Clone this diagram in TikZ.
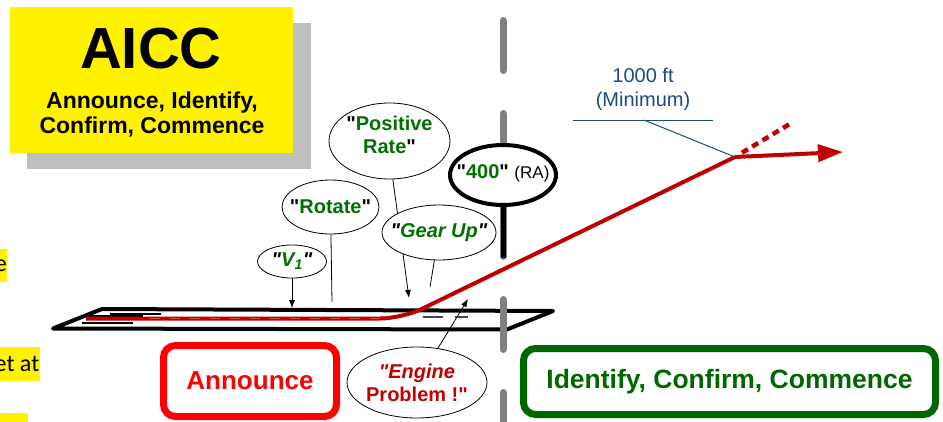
\documentclass[tikz,border=0pt]{standalone}
\usepackage{fontspec}
\setmainfont{Liberation Sans}[Ligatures=TeXOff]
\newfontfamily\notefont{Carlito}
\usepackage{tikz}
\usetikzlibrary{arrows,arrows.meta,shapes,positioning,calc,shapes.geometric}

\definecolor{aiccred}{RGB}{192,0,0}
\definecolor{callgreen}{RGB}{0,112,0}
\definecolor{boxgreen}{RGB}{0,102,0}
\definecolor{shadowgray}{RGB}{191,191,191}
\definecolor{polegray}{RGB}{128,128,128}
\definecolor{minblue}{RGB}{31,73,125}
\definecolor{markgray}{RGB}{64,72,80}

\newcommand{\bq}{{\color{black}"}}

\tikzset{
    callout/.style={ellipse, draw, line width=0.8pt, fill=white, inner sep=0pt},
    calltext/.style={text=callgreen, align=center, font=\bfseries\fontsize{20}{23}\selectfont},
    phasebox/.style={draw, rounded corners=12pt, line width=7pt, font=\bfseries\fontsize{26}{30}\selectfont},
    pointer/.style={line width=0.8pt, -{Latex[length=8pt, width=6pt]}},
    notemark/.style={fill=yellow, anchor=east, inner xsep=0.5pt, inner ysep=0pt, font=\notefont\fontsize{24}{24}\selectfont}
}

\begin{document}
\begin{tikzpicture}[x=1pt, y=-1pt]
        \useasboundingbox (0,0) rectangle (943,421);
        \node[notemark, minimum height=33pt] (noteone) at (7.5,265.5) {e};
        \node[notemark, minimum height=34pt] (notetwo) at (40,364) {et at};
        \fill[yellow] (0,413) rectangle (28,425);

        \node[fill=shadowgray, minimum width=284pt, minimum height=146pt] (aiccshadow) at (169,96) {};
        \node[fill=yellow, minimum width=283pt, minimum height=146pt] (aiccbox) at (151.5,80) {};
        \node[font=\bfseries\fontsize{58}{60}\selectfont] (aicctitle) at (151,49) {AICC};
        \node[align=center, font=\bfseries\fontsize{23}{25}\selectfont] (aiccsub) at (152,114) {Announce, Identify,\\Confirm, Commence};

        \draw[line width=4pt, line join=round] (53,328.5) -- (102,309) -- (553,311) -- (507,329.5) -- cycle;
        \draw[line width=1.5pt] (110,314) -- (161,314);
        \draw[line width=1.5pt] (86,316) -- (143,316);
        \draw[line width=1.5pt] (82,323) -- (133,323);
        \draw[markgray, line width=1.5pt] (423,317) -- (443,317);
        \draw[markgray, line width=1.5pt] (455,317) -- (468,317);

        \coordinate (rollstart) at (86,318.5);
        \coordinate (liftoff) at (402,318.5);
        \coordinate (thousand) at (735,157);
        \coordinate (climbtip) at (843,152);
        \coordinate (dashend) at (793,122);
        \draw[aiccred, line width=4pt, rounded corners=22pt] (rollstart) -- (liftoff) -- (thousand);
        \draw[white, opacity=0.3, line width=1pt, dash pattern=on 10pt off 10pt] (150,318.5) -- (390,318.5);
        \draw[aiccred, line width=4pt, -{Triangle[length=25pt, width=17pt]}] (thousand) -- (climbtip);
        \draw[aiccred, line width=4.5pt, dash pattern=on 7pt off 5pt] ($(thousand)!0.12!(dashend)$) -- (dashend);

        \draw[polegray, line width=7pt, line cap=round, dash pattern=on 50pt off 43pt] (503,20.5) -- (503,440);
        \coordinate (stickfoot) at (503,258);
        \node[callout, line width=4pt, minimum width=106pt, minimum height=60pt,
            label={[calltext, yshift=2pt]center:\bq400\bq\ {\mdseries\color{black}\fontsize{17}{20}\selectfont(RA)}}] (raheight) at (503,175) {};
        \draw[line width=5pt] (raheight) -- (stickfoot);

        \node[callout, minimum width=69pt, minimum height=33pt,
            label={[calltext]center:\itshape\bq V\textsubscript{1}\bq}] (vone) at (292,261.5) {};
        \coordinate (vonept) at (292,308);
        \draw[pointer] (vone) -- (vonept);

        \node[callout, minimum width=97pt, minimum height=54pt,
            label={[calltext]center:\bq Rotate\bq}] (rotate) at (330.5,207) {};
        \coordinate (rotatept) at (332,302);
        \draw[line width=0.8pt] (rotate) -- (rotatept);

        \node[callout, minimum width=121pt, minimum height=76pt,
            label={[calltext, yshift=6pt]center:\bq Positive\\Rate\bq}] (posrate) at (389.5,141) {};
        \coordinate (posratept) at (409,298);
        \draw[pointer] (posrate.-85) -- (posratept);

        \node[callout, minimum width=114pt, minimum height=55pt,
            label={[calltext]center:\itshape\bq Gear Up\bq}] (gearup) at (439,232.5) {};
        \coordinate (gearuppt) at (430,287);
        \draw[line width=0.8pt] (gearup) -- (gearuppt);

        \node[callout, minimum width=140pt, minimum height=71pt,
            label={[calltext, text=aiccred]center:\itshape"Engine\\Problem !"}] (engine) at (417,382.5) {};
        \coordinate (enginept) at (468,299);
        \draw[pointer] (engine) -- (enginept);

        \node[phasebox, draw=red, text=red, minimum width=173pt, minimum height=71pt] (announce) at (250,381) {Announce};
        \node[phasebox, draw=boxgreen, text=boxgreen, minimum width=412pt, minimum height=66pt,
            font=\bfseries\fontsize{26.5}{30}\selectfont] (identify) at (729.5,381.5) {Identify, Confirm, Commence};

        \node[align=center, text=minblue, font=\fontsize{20}{24}\selectfont] (minalt) at (643,89) {1000 ft\\(Minimum)};
        \coordinate (minleft) at (573,120);
        \coordinate (minright) at (713,120);
        \coordinate (minfoot) at (644,120);
        \draw[minblue, line width=1pt] (minleft) -- (minright);
        \draw[minblue, line width=1pt] (minfoot) -- (thousand);
    \end{tikzpicture}
\end{document}
